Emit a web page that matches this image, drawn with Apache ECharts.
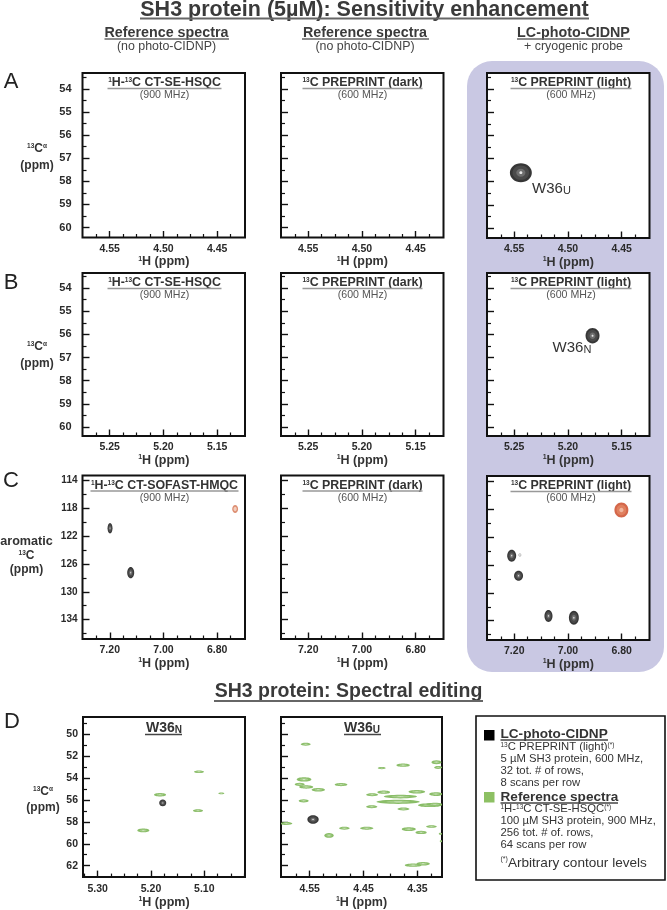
<!DOCTYPE html>
<html><head><meta charset="utf-8">
<style>html,body{margin:0;padding:0;background:#fff}#c{width:667px;height:910px;filter:blur(0.3px)}</style>
<script src="https://cdn.jsdelivr.net/npm/echarts@6/dist/echarts.min.js"></script>
</head><body><div id="c"></div>
<script>
// ---------- tick values ----------
const rowAXMajor=[4.55,4.50,4.45];
const rowAXMinor=[4.5625,4.5375,4.525,4.5125,4.4875,4.475,4.4625,4.4375];
const rowBXMajor=[5.25,5.20,5.15];
const rowBXMinor=[5.2625,5.2375,5.225,5.2125,5.1875,5.175,5.1625,5.1375];
const rowCXMajor=[7.20,7.00,6.80];
const rowCXMinor=[7.25,7.15,7.10,7.05,6.95,6.90,6.85,6.75];
const ppmYMajor=[54,55,56,57,58,59,60];
const ppmYMinor=[53.5,54.5,55.5,56.5,57.5,58.5,59.5];
const rowCYMajor=[114,118,122,126,130,134];
const rowCYMinor=[116,120,124,128,132,136];
const rowDYMajor=[50,52,54,56,58,60,62];
const rowDYMinor=[49,51,53,55,57,59,61];
const d1XMajor=[5.30,5.20,5.10];
const d1XMinor=[5.325,5.275,5.25,5.225,5.175,5.15,5.125,5.075,5.05,5.025];
const d2XMajor=[4.55,4.45,4.35];
const d2XMinor=[4.575,4.525,4.50,4.475,4.425,4.40,4.375,4.325];
// ---------- peaks: 1H ppm, 13C ppm, half width 1H, half width 13C ----------
const a3Dark=[[4.5438,57.61,0.0102,0.41]];
const b3Dark=[[5.1771,56.06,0.0065,0.33]];
const c1Dark=[[7.199,120.85,0.0093,0.75],[7.122,127.24,0.013,0.80]];
const c1Red=[[6.733,118.07,0.011,0.58]];
const c3Red=[[6.801,118.07,0.026,1.08]];
const c3Dark=[[7.2096,124.65,0.0167,0.86],[7.184,127.53,0.0167,0.72],[7.0726,133.32,0.015,0.86],[6.978,133.57,0.0185,1.0]];
const c3Faint=[[7.179,124.55,0.0056,0.22]];
const d1Green=[[5.1099,53.40,0.0094,0.12],[5.068,55.39,0.0056,0.08],[5.183,55.51,0.0113,0.16],[5.1118,56.97,0.0094,0.13],[5.2144,58.78,0.0113,0.17]];
const d1Dark=[[5.178,56.26,0.0066,0.31]];
const d2Green=[[4.5574,50.89,0.0093,0.134],[4.3765,52.80,0.0124,0.149],[4.4162,53.07,0.0074,0.104],[4.3146,52.53,0.0093,0.179],[4.3115,53.01,0.0074,0.134],[4.5605,54.11,0.0136,0.193],[4.4918,54.58,0.0118,0.149],[4.5686,54.55,0.0093,0.149],[4.5565,54.80,0.0130,0.150],[4.5340,55.05,0.0125,0.170],[4.4125,55.27,0.0118,0.149],[4.3511,55.24,0.0155,0.164],[4.4341,55.51,0.0112,0.134],[4.3158,55.45,0.0124,0.179],[4.3815,55.68,0.031,0.164],[4.5612,56.07,0.0093,0.149],[4.3858,56.16,0.0403,0.193],[4.3270,56.46,0.0217,0.179],[4.3177,56.40,0.0155,0.149],[4.4348,56.61,0.0105,0.134],[4.3759,56.82,0.0112,0.134],[4.5934,58.15,0.0112,0.134],[4.3239,58.42,0.0099,0.119],[4.366,58.66,0.013,0.164],[4.3431,58.96,0.0105,0.149],[4.4856,58.57,0.0099,0.134],[4.4441,58.57,0.0124,0.134],[4.5141,59.23,0.0087,0.223],[4.3071,59.08,0.0031,0.09],[4.3059,59.76,0.0025,0.09],[4.3579,61.96,0.0155,0.149],[4.3393,61.82,0.0124,0.164]];
const d2Dark=[[4.5438,57.77,0.0105,0.387]];
// ---------- style ----------
const FF='"Liberation Sans",Arial,sans-serif';
const DARK=[{k:1,c:'#363636'},{k:.76,c:'#4a4a4a'},{k:.42,c:'#6e6e6e'},{k:.14,c:'#e6e6e6'}];
const FAINT=[{k:1,c:'#a0a0a0'},{k:.6,c:'#efefef'}];
const GREEN=[{k:1,c:'#8abd68'},{k:.55,c:'#a5cd8a'},{k:.2,c:'#d3e6c4'}];
const RED=[{k:1,c:'#d4674a'},{k:.7,c:'#e0805f'},{k:.3,c:'#f1b69e'}];
const RED2=[{k:1,c:'#dd8f73'},{k:.55,c:'#f3cdbc'}];

const grids=[],xAxes=[],yAxes=[],series=[];
function panel(left,top,w,h,xr,yr,xMaj,xMin,yMaj,yMin,showY,peaks,opt){
  opt=opt||{};
  const g=grids.length;
  grids.push({left,top,width:w,height:h,show:true,backgroundColor:'#fff',borderColor:'#111',borderWidth:2,containLabel:false});
  const base={gridIndex:g,type:'value',inverse:true,splitLine:{show:false},axisLine:{show:false,onZero:false}};
  const xi=xAxes.length,yi=yAxes.length;
  xAxes.push(Object.assign({},base,{position:'bottom',min:xr[1],max:xr[0],
    name:'{s|1}{b|H (ppm)}',nameLocation:'middle',nameGap:opt.nameGap||17,
    nameTextStyle:{rich:{s:{fontFamily:FF,fontSize:7,fontWeight:'bold',color:'#333',verticalAlign:'top'},b:{fontFamily:FF,fontSize:12.5,fontWeight:'bold',color:'#333'}}},
    axisTick:{show:true,inside:true,length:6.5,lineStyle:{color:'#111',width:1.4},customValues:xMaj},
    axisLabel:{show:true,customValues:xMaj,margin:opt.xMargin||6,fontFamily:FF,fontSize:10.5,fontWeight:'bold',color:'#2a2a2a',
      formatter:v=>v.toFixed(2)}}));
  xAxes.push(Object.assign({},base,{position:'bottom',min:xr[1],max:xr[0],
    axisTick:{show:true,inside:true,length:3.5,lineStyle:{color:'#111',width:1.2},customValues:xMin},
    axisLabel:{show:false}}));
  yAxes.push(Object.assign({},base,{position:'left',min:yr[0],max:yr[1],
    axisTick:{show:true,inside:true,length:7,lineStyle:{color:'#111',width:1.4},customValues:yMaj},
    axisLabel:{show:showY,customValues:yMaj,margin:opt.yMargin||11,fontFamily:FF,fontSize:opt.yFont||11,fontWeight:'bold',color:'#2a2a2a'}}));
  yAxes.push(Object.assign({},base,{position:'left',min:yr[0],max:yr[1],
    axisTick:{show:true,inside:true,length:4,lineStyle:{color:'#111',width:1.2},customValues:yMin},
    axisLabel:{show:false}}));
  (peaks||[]).forEach(p=>{
    const levels=p.levels;
    series.push({type:'custom',xAxisIndex:xi,yAxisIndex:yi,clip:true,z:5,silent:true,
      encode:{x:0,y:1},data:p.data,
      renderItem(params,api){
        const x=api.value(0),y=api.value(1);
        const c=api.coord([x,y]),e=api.coord([x+api.value(2),y+api.value(3)]);
        const rx=Math.abs(e[0]-c[0]),ry=Math.abs(e[1]-c[1]);
        return {type:'group',children:levels.map(l=>({type:'ellipse',
          shape:{cx:c[0],cy:c[1],rx:rx*l.k,ry:ry*l.k},style:{fill:l.c}}))};
      }});
  });
}
const W=162.5, L1=82.5, L2=281, L3=487;
const aX=[4.5753,4.4241], bX=[5.2753,5.1241], aY=[53.31,60.43], bY=[53.35,60.39];
const cX=[7.3015,6.6963], cY1=[113.25,136.8], cY3=[113.18,136.78];
const dY=[48.39,63.05];
const cOpt={yMargin:5,yFont:10}, dOpt={yMargin:5,yFont:10.5,xMargin:7};
panel(L1,73,W,164.5,aX,aY,rowAXMajor,rowAXMinor,ppmYMajor,ppmYMinor,true);
panel(L2,73,W,164.5,aX,aY,rowAXMajor,rowAXMinor,ppmYMajor,ppmYMinor,false);
panel(L3,73,W,165,aX,aY,rowAXMajor,rowAXMinor,ppmYMajor,ppmYMinor,false,[{data:a3Dark,levels:DARK}]);
panel(L1,273,W,163,bX,bY,rowBXMajor,rowBXMinor,ppmYMajor,ppmYMinor,true);
panel(L2,273,W,163,bX,bY,rowBXMajor,rowBXMinor,ppmYMajor,ppmYMinor,false);
panel(L3,273,W,163,bX,bY,rowBXMajor,rowBXMinor,ppmYMajor,ppmYMinor,false,[{data:b3Dark,levels:DARK}]);
panel(L1,475.5,W,163.5,cX,cY1,rowCXMajor,rowCXMinor,rowCYMajor,rowCYMinor,true,[{data:c1Dark,levels:DARK},{data:c1Red,levels:RED2}],cOpt);
panel(L2,475.5,W,163.5,cX,cY1,rowCXMajor,rowCXMinor,rowCYMajor,rowCYMinor,false,[],cOpt);
panel(L3,476,W,164,cX,cY3,rowCXMajor,rowCXMinor,rowCYMajor,rowCYMinor,false,[{data:c3Dark,levels:DARK},{data:c3Faint,levels:FAINT},{data:c3Red,levels:RED}],cOpt);
panel(83,717,162,164,[5.3276,5.0236],dY,d1XMajor,d1XMinor,rowDYMajor,rowDYMinor,true,[{data:d1Green,levels:GREEN},{data:d1Dark,levels:DARK}],dOpt);
panel(L2,717,161,164,[4.6033,4.3043],dY,d2XMajor,d2XMinor,rowDYMajor,rowDYMinor,false,[{data:d2Green,levels:GREEN},{data:d2Dark,levels:DARK}],dOpt);

// ---------- text ----------
const gfx=[];
gfx.push({type:'rect',z:-5,shape:{x:467,y:61,width:197,height:611,r:25},style:{fill:'#c9c8e3'}});
const tok=(size,weight,color,va)=>({fontFamily:FF,fontSize:size,fontWeight:weight,fill:color,verticalAlign:va});
function T(x,y,text,size,weight,color,align,rich){
  const style={x,y,text,fontFamily:FF,fontSize:size,fontWeight:weight||'normal',fill:color||'#333',align:align||'center',verticalAlign:'middle'};
  if(rich)style.rich=rich;
  gfx.push({type:'text',z:20,style});
}
function U(x1,x2,y,w,c){gfx.push({type:'line',z:20,shape:{x1,y1:y,x2,y2:y},style:{stroke:c||'#444',lineWidth:w||1.5}});}

T(364.5,10,'SH3 protein (5µM): Sensitivity enhancement',21.5,'bold','#3a3a3a');U(140,589,18.5,2,'#666');
T(348.5,692,'SH3 protein: Spectral editing',19.5,'bold','#3a3a3a');U(214,483,701,2,'#666');
[['A',11,82],['B',11,283],['C',11,481],['D',12,722]].forEach(a=>T(a[1],a[2],a[0],22,'normal','#222'));

T(166.5,33,'Reference spectra',14.3,'bold','#3a3a3a');U(104.5,229,39,1.3,'#666');
T(166.5,47,'(no photo-CIDNP)',12.4,'normal','#444');
T(365,33,'Reference spectra',14.3,'bold','#3a3a3a');U(302,429,39,1.3,'#666');
T(365,47,'(no photo-CIDNP)',12.4,'normal','#444');
T(573.5,33,'LC-photo-CIDNP',14.3,'bold','#3a3a3a');U(517,630,39,1.3,'#666');
T(573.5,47,'+ cryogenic probe',12.4,'normal','#444');

const supRich={s:tok(6.5,'bold','#333','top'),b:tok(12.4,'bold','#333')};
function head(cx,top,str,sub,w){
  T(cx,top+10,str,12.4,'bold','#333','center',supRich);
  U(cx-w/2,cx+w/2,top+15.5,1.5,'#999');
  T(cx,top+22.5,sub,10.6,'normal','#555');
}
const HSQC='{s|1}{b|H-}{s|13}{b|C CT-SE-HSQC}', DK='{s|13}{b|C PREPRINT (dark)}', LT='{s|13}{b|C PREPRINT (light)}';
[73,273].forEach(t=>{head(164.5,t,HSQC,'(900 MHz)',114);head(362.5,t,DK,'(600 MHz)',120);head(571,t,LT,'(600 MHz)',121);});
head(164.5,475.5,'{s|1}{b|H-}{s|13}{b|C CT-SOFAST-HMQC}','(900 MHz)',148);head(362.5,475.5,DK,'(600 MHz)',120);head(571,476,LT,'(600 MHz)',121);

const yRich={s:tok(6.5,'bold','#333','top'),b:tok(12,'bold','#333')};
function cAlpha(x,y1,y2){T(x,y1,'{s|13}{b|C}{s|α}',12,'bold','#333','center',yRich);T(x,y2,'(ppm)',12,'bold','#333');}
cAlpha(37,149,166);cAlpha(37,347,364);cAlpha(43,792,808);
T(26.5,541.5,'aromatic',12.6,'bold','#333');T(26.5,556,'{s|13}{b|C}',12,'bold','#333','center',yRich);T(26.5,570,'(ppm)',12,'bold','#333');

const subRich={b:tok(14,'bold','#333','bottom'),s:tok(10,'bold','#333','bottom')};
T(164,728,'{b|W36}{s|N}',14,'bold','#333','center',subRich);U(145,182,734.5,1.4,'#444');
T(362,728,'{b|W36}{s|U}',14,'bold','#333','center',subRich);U(344,381,734.5,1.4,'#444');
const lblRich={b:tok(15,'normal','#333','bottom'),s:tok(11,'normal','#333','bottom')};
T(551.5,189,'{b|W36}{s|U}',15,'normal','#333','center',lblRich);
T(572,348,'{b|W36}{s|N}',15,'normal','#333','center',lblRich);

// legend box
gfx.push({type:'rect',z:19,shape:{x:476,y:716,width:189,height:164},style:{fill:'#fff',stroke:'#111',lineWidth:1.6}});
gfx.push({type:'rect',z:20,shape:{x:484,y:730,width:10.5,height:10.5},style:{fill:'#000'}});
gfx.push({type:'rect',z:20,shape:{x:484,y:792,width:10.5,height:10.5},style:{fill:'#8dc063'}});
const LX=500.5;
const lr={s:tok(6.5,'normal','#333','top'),b:tok(11.3,'normal','#333')};
const lr2={s:tok(7,'normal','#333','top'),b:tok(13.6,'normal','#333')};
T(LX,734,'LC-photo-CIDNP',13.6,'bold','#333','left');U(LX,608,740,1.4,'#444');
T(LX,747,'{s|13}{b|C PREPRINT (light)}{s|(*)}',11.3,'normal','#333','left',lr);
T(LX,759,'5 µM SH3 protein, 600 MHz,',11.3,'normal','#333','left');
T(LX,771,'32 tot. # of rows,',11.3,'normal','#333','left');
T(LX,783,'8 scans per row',11.3,'normal','#333','left');
T(LX,797,'Reference spectra',13.6,'bold','#333','left');U(LX,618,803,1.4,'#444');
T(LX,809,'{s|1}{b|H-}{s|13}{b|C CT-SE-HSQC}{s|(*)}',11.3,'normal','#333','left',lr);
T(LX,821,'100 µM SH3 protein, 900 MHz,',11.3,'normal','#333','left');
T(LX,833,'256 tot. # of. rows,',11.3,'normal','#333','left');
T(LX,845,'64 scans per row',11.3,'normal','#333','left');
T(LX,863,'{s|(*)}{b|Arbitrary contour levels}',13.6,'normal','#333','left',lr2);

const chart=echarts.init(document.getElementById('c'),null,{renderer:'canvas'});
chart.setOption({animation:false,backgroundColor:'#fff',grid:grids,xAxis:xAxes,yAxis:yAxes,series,graphic:{elements:gfx}});
</script></body></html>
